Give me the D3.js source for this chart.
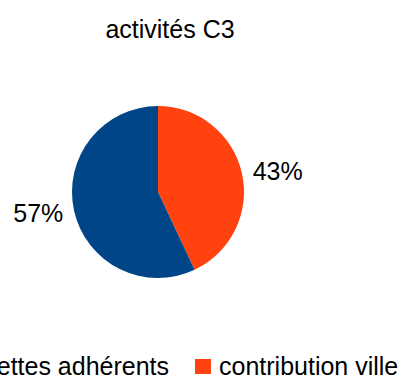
<!DOCTYPE html>
<html>
<head>
<meta charset="utf-8">
<script src="https://d3js.org/d3.v7.min.js"></script>
<style>
  body { margin: 0; background: #fff; }
  text { font-family: "Liberation Sans", Arial, sans-serif; fill: #000; }
</style>
</head>
<body>
<svg width="404" height="378"></svg>
<script>
var title = "activités C3";
var categories = ["recettes adhérents", "contribution ville"];
var values = [57, 43];
var colors = ["#004586", "#ff420e"];

var svg = d3.select("svg");
var cx = 158, cy = 192, radius = 86, labelR = 97;

svg.append("text")
    .text(title)
    .attr("x", 170)
    .attr("y", 38)
    .attr("text-anchor", "middle")
    .style("font-size", "25px");

// slices: contribution ville starts at 12 o'clock clockwise, then recettes
var order = [1, 0];
var pie = d3.pie().sort(null).value(function(i){ return values[i]; });
var arcs = pie(order);
var arc = d3.arc().innerRadius(0).outerRadius(radius);

var g = svg.append("g").attr("transform", "translate(" + cx + "," + cy + ")");

g.selectAll("path")
    .data(arcs)
    .enter()
    .append("path")
    .attr("d", arc)
    .attr("fill", function(d){ return colors[d.data]; });

g.selectAll(".lbl")
    .data(arcs)
    .enter()
    .append("text")
    .attr("class", "lbl")
    .text(function(d){ return values[d.data] + "%"; })
    .attr("x", function(d){ var a = (d.startAngle + d.endAngle) / 2; return labelR * Math.sin(a); })
    .attr("y", function(d){ var a = (d.startAngle + d.endAngle) / 2; return -labelR * Math.cos(a); })
    .attr("dy", "0.35em")
    .attr("text-anchor", function(d){ var a = (d.startAngle + d.endAngle) / 2; return a < Math.PI ? "start" : "end"; })
    .style("font-size", "25px");

// legend
var legendX = [-62, 195];
var legend = svg.selectAll(".legend")
    .data(categories)
    .enter()
    .append("g")
    .attr("class", "legend")
    .attr("transform", function(d, i){ return "translate(" + legendX[i] + ",359)"; });

legend.append("rect")
    .attr("width", 16)
    .attr("height", 15)
    .attr("fill", function(d, i){ return colors[i]; });

legend.append("text")
    .text(function(d){ return d; })
    .attr("x", 24)
    .attr("y", 16)
    .style("font-size", "25px");
</script>
</body>
</html>
